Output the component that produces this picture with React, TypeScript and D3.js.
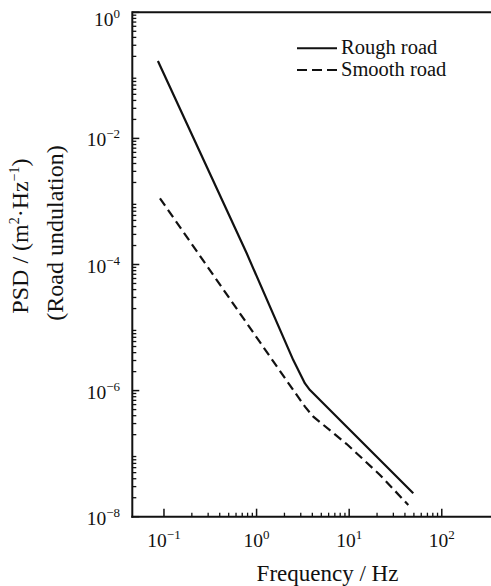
import React from "react";
import * as d3 from "d3";

// Frequency (Hz) and PSD (m^2·Hz^-1)
const roughFreq = [0.086, 0.78, 2.49, 3.33, 3.77, 9.4, 49.2];
const roughPsd = [0.169, 1.52e-4, 3.05e-6, 1.3e-6, 1.02e-6, 2.67e-7, 2.35e-8];

const smoothFreq = [0.0905, 2.49, 3.33, 4.1, 9.4, 21.5, 43.5];
const smoothPsd = [1.12e-3, 1.02e-6, 5.56e-7, 3.86e-7, 1.42e-7, 4.6e-8, 1.53e-8];

const xMajor = [0.1, 1, 10, 100];
const xMajorExp = ["\u22121", "0", "1", "2"];
const yMajor = [1, 1e-2, 1e-4, 1e-6, 1e-8];
const yMajorExp = ["0", "\u22122", "\u22124", "\u22126", "\u22128"];

const legendLabels = ["Rough road", "Smooth road"];

const W = 491;
const H = 586;
const FONT = "Liberation Serif";

export default function App() {
  const left = 132.3;
  const right = 491;
  const top = 12.3;
  const bottom = 516.7;

  const x = d3.scaleLog().domain([0.0455, 340]).range([left, right]);
  const y = d3.scaleLog().domain([1e-8, 1]).range([bottom, top]);

  const line = d3
    .line<[number, number]>()
    .x((d) => x(d[0]))
    .y((d) => y(d[1]));

  const roughData: [number, number][] = roughFreq.map((f, i) => [f, roughPsd[i]]);
  const smoothData: [number, number][] = smoothFreq.map((f, i) => [f, smoothPsd[i]]);

  const xMinor: number[] = [];
  for (let e = -1; e < 2; e++) {
    for (let k = 2; k <= 9; k++) xMinor.push(k * Math.pow(10, e));
  }
  const yMinor: number[] = [];
  for (let e = -8; e < 0; e++) {
    for (let k = 2; k <= 9; k++) yMinor.push(k * Math.pow(10, e));
  }

  const stroke = "#111";
  const ts = { fontFamily: FONT };

  return (
    <div style={{ position: "absolute", left: 0, top: 0 }}>
      <svg width={W} height={H} style={{ display: "block", background: "#fff" }}>
        {/* frame lines */}
        <line x1={left} x2={right} y1={top} y2={top} stroke={stroke} strokeWidth={2} />
        <line x1={left} x2={left} y1={top - 1} y2={bottom + 1} stroke={stroke} strokeWidth={2} />
        <line x1={left - 1} x2={right} y1={bottom} y2={bottom} stroke={stroke} strokeWidth={2} />

        {/* x ticks */}
        {xMajor.map((v) => (
          <line key={"xM" + v} x1={x(v)} x2={x(v)} y1={bottom} y2={bottom - 8} stroke={stroke} strokeWidth={1.5} />
        ))}
        {xMinor.map((v, i) => (
          <line key={"xm" + i} x1={x(v)} x2={x(v)} y1={bottom} y2={bottom - 4} stroke={stroke} strokeWidth={1.3} />
        ))}
        {/* y ticks */}
        {yMajor.map((v) => (
          <line key={"yM" + v} x1={left} x2={left + 7} y1={y(v)} y2={y(v)} stroke={stroke} strokeWidth={1.5} />
        ))}
        {yMinor.map((v, i) => (
          <line key={"ym" + i} x1={left} x2={left + 4} y1={y(v)} y2={y(v)} stroke={stroke} strokeWidth={1.3} />
        ))}

        {/* x tick labels */}
        {xMajor.map((v, i) => (
          <text key={"xl" + v} x={x(v)} y={546.7} textAnchor="middle" fontSize={19.5} fill={stroke} style={ts}>
            10
            <tspan fontSize={13} dy={-8}>
              {xMajorExp[i]}
            </tspan>
          </text>
        ))}
        {/* y tick labels */}
        {yMajor.map((v, i) => (
          <text
            key={"yl" + v}
            x={120}
            y={y(v) + (v === 1 ? 14 : 8)}
            textAnchor="end"
            fontSize={19.5}
            fill={stroke}
            style={ts}
          >
            10
            <tspan fontSize={13} dy={-8}>
              {yMajorExp[i]}
            </tspan>
          </text>
        ))}

        {/* curves */}
        <path d={line(roughData) || ""} fill="none" stroke={stroke} strokeWidth={2.2} strokeLinejoin="round" />
        <path
          d={line(smoothData) || ""}
          fill="none"
          stroke={stroke}
          strokeWidth={2.2}
          strokeDasharray="9,5"
        />

        {/* legend */}
        <line x1={297} x2={337} y1={48.3} y2={48.3} stroke={stroke} strokeWidth={2} />
        <line x1={297} x2={337} y1={70} y2={70} stroke={stroke} strokeWidth={2} strokeDasharray="10,5" />
        <text x={341} y={54.3} fontSize={20.5} fill={stroke} style={ts}>
          {legendLabels[0]}
        </text>
        <text x={341} y={76} fontSize={20.5} fill={stroke} style={ts}>
          {legendLabels[1]}
        </text>

        {/* axis titles */}
        <text x={327.5} y={581} textAnchor="middle" fontSize={23} fill={stroke} style={ts}>
          Frequency / Hz
        </text>
        <text transform="translate(28,236) rotate(-90)" textAnchor="middle" fontSize={24} fill={stroke} style={ts}>
          PSD / (m
          <tspan fontSize={14} dy={-9}>
            2
          </tspan>
          <tspan dy={9}>{"\u00b7Hz"}</tspan>
          <tspan fontSize={14} dy={-9}>
            {"\u22121"}
          </tspan>
          <tspan dy={9}>)</tspan>
        </text>
        <text transform="translate(63,233) rotate(-90)" textAnchor="middle" fontSize={24} fill={stroke} style={ts}>
          (Road undulation)
        </text>
      </svg>
    </div>
  );
}
